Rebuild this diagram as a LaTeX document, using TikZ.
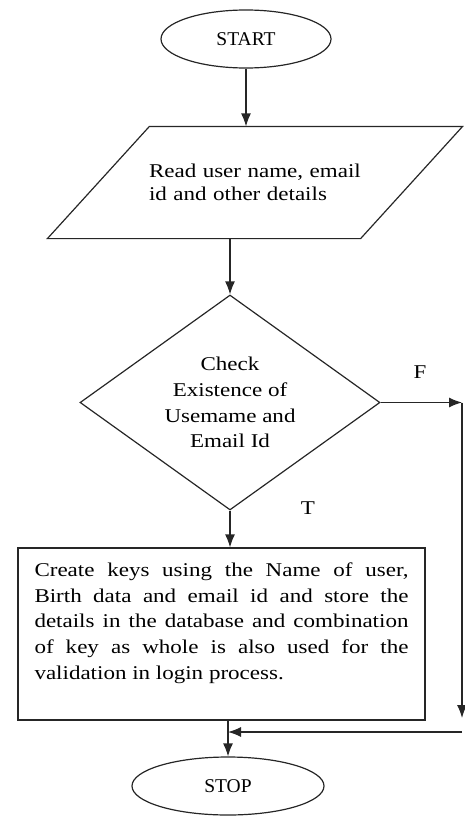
\documentclass[tikz,border=0pt]{standalone}
\usepackage{fontspec}
\setmainfont{Liberation Serif}[FakeStretch=1.18]
\newfontfamily\termfont{Liberation Serif}
\usetikzlibrary{shapes.geometric,arrows.meta}
\begin{document}
\begin{tikzpicture}[x=1pt,y=-1pt,line width=1.2pt,draw=black!85,
  arr/.style={-{Latex[length=13pt,width=10pt]}},
  term/.style={draw,ellipse,minimum height=58pt,font=\termfont\fontsize{19.5}{23}\selectfont},
  txt/.style={font=\fontsize{19.5}{25.75}\selectfont}]
\useasboundingbox (0,0) rectangle (464,816);
\node[term,minimum width=170pt] (start) at (246,39) {START};
\node[txt,font=\fontsize{19.5}{23}\selectfont,minimum width=312pt,minimum height=111pt,text width=212pt,align=left] (read) at (255,182.5) {Read user name, email\\ id and other details};
\draw ([xshift=51pt]read.north west)--([xshift=51pt]read.north east)--([xshift=-51pt]read.south east)--([xshift=-51pt]read.south west)--cycle;
\node[txt,draw,diamond,aspect=1.4,inner sep=0pt,minimum width=300pt,minimum height=215pt,align=center] (check) at (230,402.5) {Check\\ Existence of\\ Usemame and\\ Email Id};
\node[txt,draw,minimum width=407pt,minimum height=172pt,text width=374pt,inner xsep=0pt,align=justify] (create) at (221.5,634) {Create keys using the Name of user,\linebreak Birth data and email id and store the\linebreak details in the database and combination\linebreak of key as whole is also used for the\linebreak validation in login process.\\ \mbox{}};
\node[term,minimum width=192pt] (stop) at (228,786) {STOP};
\node[txt] (f) at (420,372) {F};
\node[txt] (t) at (308,508) {T};
\coordinate (fin) at (462,402.5);
\coordinate (fout) at (462,718);
\coordinate (back) at (462,732);
\coordinate (join) at (stop.north |- back);
\draw[arr] (start) -- (start |- read.north);
\draw[arr] (check.north |- read.south) -- (check.north);
\draw[arr] (check.south) -- (check.south |- create.north);
\draw[arr] (check.east) -- (fin);
\draw[arr] (fin) -- (fout);
\draw[arr] (back) -- (join);
\draw[arr] (create.south -| stop.north) -- (stop.north);
\end{tikzpicture}
\end{document}
